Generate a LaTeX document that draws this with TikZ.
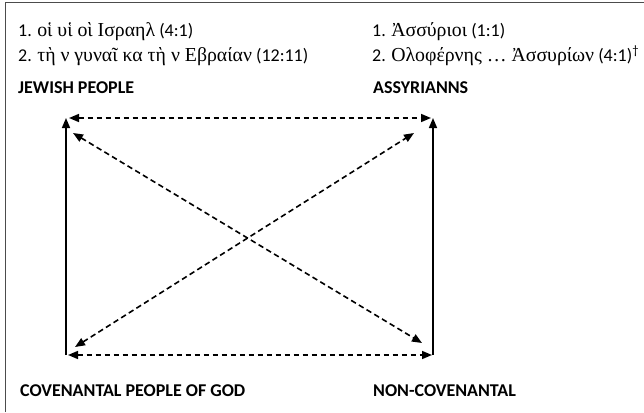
\documentclass[tikz,border=0pt]{standalone}
\usepackage{fontspec}
\setmainfont{Carlito}
\newfontfamily\greek[Scale=1.1]{Liberation Serif}
\usetikzlibrary{arrows.meta}

\begin{document}
\begin{tikzpicture}[x=1pt,y=-1pt,
  every node/.style={font=\fontsize{18}{20}\selectfont, inner sep=0pt, anchor=base west},
  lbl/.style={font=\fontsize{18}{20}\selectfont\bfseries},
  line link/.style={draw, line width=1.6pt, -{Triangle[length=10pt,width=8pt]}},
  dash link/.style={draw, line width=1.6pt, dash pattern=on 5.5pt off 3.5pt,
    {Triangle[length=10pt,width=8pt]}-{Triangle[length=10pt,width=8pt]}}]
\useasboundingbox[fill=white] (0,0) rectangle (644,412);
\draw[gray!60!black, line width=0.8pt] (5,412) -- (5,2) -- (644,2);
\node (l1) at (18,37) {1. {\greek οἱ υἱ οὶ Ισραηλ} (4:1)};
\node (l2) at (18,61) {2. {\greek τὴ ν γυναῖ κα τὴ ν Εβραίαν} (12:11)};
\node[lbl] (jewish) at (18,93) {JEWISH PEOPLE};
\node (r1) at (372,37) {1. {\greek Ἀσσύριοι} (1:1)};
\node (r2) at (372,61) {2. {\greek Ολοφέρνης … Ἀσσυρίων} (4:1)\textsuperscript{†}};
\node[lbl] (assyr) at (373,93) {ASSYRIANNS};
\node[lbl] (covenant) at (20,396) {COVENANTAL PEOPLE OF GOD};
\node[lbl] (noncov) at (373,396) {NON-COVENANTAL};
\coordinate (tl) at (66,118);
\coordinate (tr) at (433,118);
\coordinate (bl) at (66,355);
\coordinate (br) at (433,355);
\coordinate (tlin) at (73,133);
\coordinate (brin) at (422,343);
\coordinate (blin) at (75,347);
\coordinate (trin) at (414,133);
\path[dash link, shorten <=3pt, shorten >=2pt] (tl) -- (tr);
\path[dash link, shorten <=2pt, shorten >=1pt] (bl) -- (br);
\path[line link] (bl) -- (tl);
\path[line link] (br) -- (tr);
\path[dash link] (tlin) -- (brin);
\path[dash link] (blin) -- (trin);
\end{tikzpicture}
\end{document}
